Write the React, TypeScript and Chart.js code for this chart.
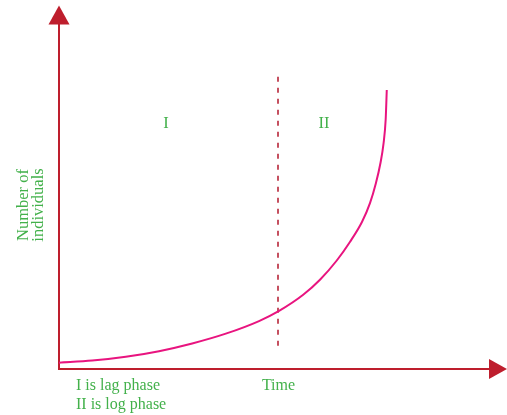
import React, { useEffect, useRef } from "react";
import { Chart, registerables } from "chart.js";

Chart.register(...registerables);

// Growth curve (time in arbitrary units, number of individuals in arbitrary units)
const timeValues = [0, 0.91, 1.83, 2.74, 3.65, 4.57, 5.48, 6.03, 6.69, 7.15, 7.61, 7.97, 8.3, 8.52, 8.68, 8.81, 8.89, 8.95, 8.98];
const numberValues = [1.8, 2.4, 3.5, 5.1, 7.3, 10.1, 13.7, 16.6, 21.2, 25.5, 31.0, 36.3, 42.0, 47.4, 53.0, 59.0, 64.3, 71.3, 79.7];

// Boundary between phase I and phase II
const phaseBoundaryTime = 6;
const phaseBoundaryRange = [83.5, 4.9];

const phaseLabels = ["I", "II"];
const phaseLabelTimes = [2.93, 7.26];
const phaseLabelNumber = 70.5;

const yTitleLines = ["Number of", "individuals"];
const xTitle = "Time";
const legendLines = ["I is lag phase", "II is log phase"];

const X_MIN = 0;
const X_MAX = 12;
const Y_MIN = 0;
const Y_MAX = 100;

const AXIS_RED = "#be1e2d";
const DASH_RED = "#b3172d";
const CURVE_PINK = "#e8147f";
const GREEN = "#43b14b";
const SERIF = '"Liberation Serif", "DejaVu Serif", serif';

const decorPlugin = {
  id: "decor",
  beforeDatasetsDraw(chart: any) {
    const { ctx, scales } = chart;
    const x0 = scales.x.getPixelForValue(0);
    const y0 = scales.y.getPixelForValue(0);
    ctx.save();
    ctx.strokeStyle = AXIS_RED;
    ctx.fillStyle = AXIS_RED;
    ctx.lineWidth = 2;
    // y axis
    ctx.beginPath();
    ctx.moveTo(x0, y0 + 1);
    ctx.lineTo(x0, 24);
    ctx.stroke();
    ctx.beginPath();
    ctx.moveTo(x0, 5.5);
    ctx.lineTo(x0 + 10.5, 24.5);
    ctx.lineTo(x0 - 10.5, 24.5);
    ctx.closePath();
    ctx.fill();
    // x axis
    ctx.beginPath();
    ctx.moveTo(x0 - 1, y0);
    ctx.lineTo(490, y0);
    ctx.stroke();
    ctx.beginPath();
    ctx.moveTo(507, y0);
    ctx.lineTo(489, y0 - 10);
    ctx.lineTo(489, y0 + 10);
    ctx.closePath();
    ctx.fill();
    ctx.restore();
  },
  afterDatasetsDraw(chart: any) {
    const { ctx, scales } = chart;
    ctx.save();
    ctx.fillStyle = GREEN;
    // phase labels
    ctx.font = `16.5px ${SERIF}`;
    ctx.textAlign = "center";
    ctx.textBaseline = "alphabetic";
    phaseLabels.forEach((lab, i) => {
      ctx.fillText(lab, scales.x.getPixelForValue(phaseLabelTimes[i]), scales.y.getPixelForValue(phaseLabelNumber) + 6);
    });
    // y title (rotated)
    ctx.font = `16.5px ${SERIF}`;
    const yMid = 205;
    const baseX = [28, 43];
    yTitleLines.forEach((line, i) => {
      ctx.save();
      ctx.translate(baseX[i], yMid);
      ctx.rotate(-Math.PI / 2);
      ctx.textAlign = "center";
      ctx.fillText(line, 0, 0);
      ctx.restore();
    });
    // x title
    ctx.font = `16px ${SERIF}`;
    ctx.textAlign = "center";
    ctx.fillText(xTitle, scales.x.getPixelForValue(phaseBoundaryTime) + 0.5, 390);
    // legend lines
    ctx.textAlign = "left";
    legendLines.forEach((line, i) => {
      ctx.fillText(line, 76, 390 + i * 18.5);
    });
    ctx.restore();
  },
};

export default function App() {
  const canvasRef = useRef<HTMLCanvasElement | null>(null);

  useEffect(() => {
    const canvas = canvasRef.current;
    if (!canvas) return;
    const chart = new Chart(canvas, {
      type: "line",
      data: {
        datasets: [
          {
            label: "Growth",
            data: timeValues.map((t, i) => ({ x: t, y: numberValues[i] })),
            borderColor: CURVE_PINK,
            borderWidth: 2,
            pointRadius: 0,
            cubicInterpolationMode: "monotone",
            fill: false,
          },
          {
            label: "Boundary",
            data: phaseBoundaryRange.map((v) => ({ x: phaseBoundaryTime, y: v })),
            borderColor: DASH_RED,
            borderWidth: 1.5,
            borderDash: [5, 6],
            pointRadius: 0,
            fill: false,
          },
        ],
      },
      options: {
        responsive: false,
        animation: false,
        devicePixelRatio: 1,
        layout: { padding: { left: 59, right: 10, top: 19, bottom: 46 } },
        plugins: { legend: { display: false }, tooltip: { enabled: false } },
        scales: {
          x: { type: "linear", min: X_MIN, max: X_MAX, display: false },
          y: { type: "linear", min: Y_MIN, max: Y_MAX, display: false },
        },
      },
      plugins: [decorPlugin],
    });
    return () => chart.destroy();
  }, []);

  return (
    <div style={{ position: "absolute", left: 0, top: 0, width: 507, height: 415, background: "#fff" }}>
      <canvas ref={canvasRef} width={507} height={415} style={{ width: 507, height: 415 }} />
    </div>
  );
}
